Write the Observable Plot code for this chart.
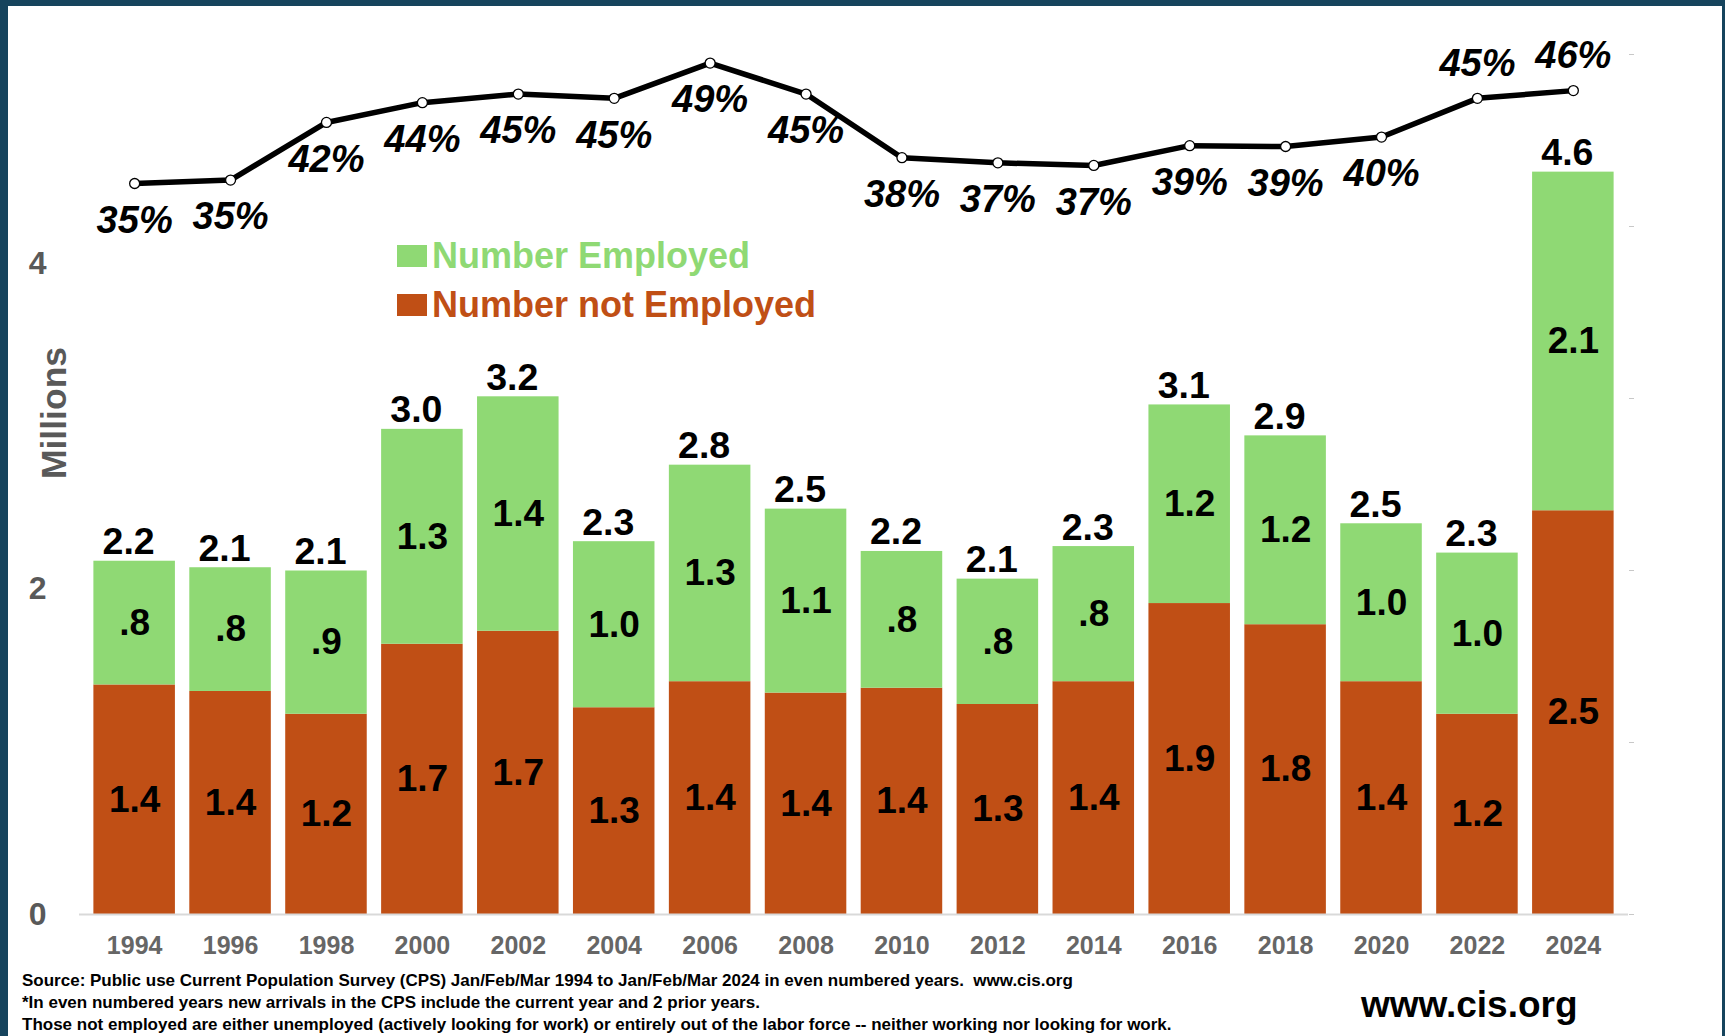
<!DOCTYPE html>
<html>
<head>
<meta charset="utf-8">
<script src="https://cdn.jsdelivr.net/npm/d3@7"></script>
<script src="https://cdn.jsdelivr.net/npm/@observablehq/plot@0.6"></script>
<style>
  html, body { margin: 0; padding: 0; }
  body { width: 1725px; height: 1036px; background: #16445d; overflow: hidden; position: relative; }
  #panel { position: absolute; left: 8px; top: 6px; width: 1714px; height: 1030px; background: #ffffff; }
  #panel svg { position: absolute; left: 0; top: 0; }
  .leg { position: absolute; font-family: "Liberation Sans", Arial, sans-serif; font-weight: bold; font-size: 36px; line-height: 1; white-space: nowrap; }
  .sw { position: absolute; width: 30px; height: 22px; }
  .foot { position: absolute; left: 14px; font-family: "Liberation Sans", Arial, sans-serif; font-weight: bold; font-size: 17px; color: #000; white-space: pre; line-height: 1; }
</style>
</head>
<body>
<div id="panel"></div>
<script>
// ---- data ----
const years = [1994, 1996, 1998, 2000, 2002, 2004, 2006, 2008, 2010, 2012, 2014, 2016, 2018, 2020, 2022, 2024];
const notEmployed = [1.41, 1.37, 1.23, 1.66, 1.74, 1.27, 1.43, 1.36, 1.39, 1.29, 1.43, 1.91, 1.78, 1.43, 1.23, 2.48];
const employed = [0.76, 0.76, 0.88, 1.32, 1.44, 1.02, 1.33, 1.13, 0.84, 0.77, 0.83, 1.22, 1.16, 0.97, 0.99, 2.08];
const totalLabels = [2.2, 2.1, 2.1, 3.0, 3.2, 2.3, 2.8, 2.5, 2.2, 2.1, 2.3, 3.1, 2.9, 2.5, 2.3, 4.6];
const shareEmployed = [35.0, 35.4, 42.1, 44.4, 45.4, 44.9, 49.0, 45.4, 38.0, 37.4, 37.1, 39.4, 39.3, 40.4, 44.9, 45.8];
const labelAboveYears = [2022, 2024];
const yTicks = [0, 2, 4];
const pctTicks = [-50, -30, -10, 10, 30, 50];
const seriesNames = ["Number not Employed", "Number Employed"];
const seriesColors = ["#c04f15", "#8fd974"];

// ---- derived tables ----
const long = [];
years.forEach((y, i) => {
  long.push({year: String(y), series: seriesNames[0], value: notEmployed[i]});
  long.push({year: String(y), series: seriesNames[1], value: employed[i]});
});
const perYear = years.map((y, i) => ({
  year: String(y), total: notEmployed[i] + employed[i], totalLabel: totalLabels[i],
  pct: shareEmployed[i], above: labelAboveYears.includes(y)
}));
const fmt = v => { const s = v.toFixed(1); return s.startsWith("0") ? s.slice(1) : s; };
const FONT = "Liberation Sans, Arial, sans-serif";

const W = 1714, H = 970;
const xScale = {type: "band", domain: years.map(String), padding: 0.15, round: false};

const bars = Plot.plot({
  width: W, height: H,
  marginLeft: 71, marginRight: 94, marginTop: 94, marginBottom: 62,
  style: {background: "transparent", overflow: "visible"},
  x: {...xScale, label: null},
  y: {domain: [0, 5], label: null},
  color: {domain: seriesNames, range: seriesColors},
  marks: [
    Plot.barY(long, Plot.stackY({x: "year", y: "value", fill: "series", order: seriesNames})),
    Plot.ruleY([0], {stroke: "#d9d9d9", strokeWidth: 2}),
    Plot.text(long, Plot.stackY({x: "year", y: "value", z: "series", order: seriesNames,
      text: d => fmt(d.value), fill: "#000", fontSize: 37, fontWeight: "bold", fontFamily: FONT})),
    Plot.text(perYear, {x: "year", y: "total", text: d => d.totalLabel.toFixed(1),
      lineAnchor: "bottom", dy: -7, dx: -6, fill: "#000", fontSize: 37.5, fontWeight: "bold", fontFamily: FONT}),
    Plot.axisX({tickSize: 0, tickPadding: 22, fontSize: 25, fontWeight: "bold", fill: "#666",
      fontFamily: FONT, label: null}),
    Plot.axisY({ticks: yTicks, tickFormat: d => String(d), tickSize: 0, tickPadding: 33, fontSize: 32,
      fontWeight: "bold", fill: "#595959", fontFamily: FONT, label: null})
  ]
});

const line = Plot.plot({
  width: W, height: H,
  marginLeft: 71, marginRight: 94, marginTop: 48, marginBottom: 62,
  style: {background: "transparent", overflow: "visible"},
  x: {...xScale, axis: null},
  y: {domain: [-50, 50], axis: null},
  marks: [
    Plot.axisY({anchor: "right", ticks: pctTicks, tickSize: 5, tickFormat: () => "", stroke: "#c8c8c8", label: null}),
    Plot.lineY(perYear, {x: "year", y: "pct", stroke: "#000", strokeWidth: 5.5, strokeLinejoin: "round"}),
    Plot.dot(perYear, {x: "year", y: "pct", r: 5, fill: "#fff", stroke: "#000", strokeWidth: 1.3}),
    Plot.text(perYear.filter(d => !d.above), {x: "year", y: "pct", text: d => Math.round(d.pct) + "%",
      dy: 37, fill: "#000", fontSize: 38, fontWeight: "bold", fontStyle: "italic", fontFamily: FONT}),
    Plot.text(perYear.filter(d => d.above), {x: "year", y: "pct", text: d => Math.round(d.pct) + "%",
      dy: -35, fill: "#000", fontSize: 38, fontWeight: "bold", fontStyle: "italic", fontFamily: FONT})
  ]
});

const panel = document.getElementById("panel");
panel.appendChild(bars);
panel.appendChild(line);

// legend
const legendItems = [seriesNames[1], seriesNames[0]];
legendItems.forEach((name, i) => {
  const color = seriesColors[seriesNames.indexOf(name)];
  const top = 239 + i * 49;
  const sw = document.createElement("div");
  sw.className = "sw"; sw.style.left = "389px"; sw.style.top = top + "px"; sw.style.background = color;
  panel.appendChild(sw);
  const t = document.createElement("div");
  t.className = "leg"; t.style.left = "424px"; t.style.top = (top - 7) + "px"; t.style.color = color;
  t.textContent = name;
  panel.appendChild(t);
});

// y axis title
const yt = document.createElement("div");
yt.textContent = "Millions";
Object.assign(yt.style, {position: "absolute", left: "47px", top: "407px", transform: "translate(-50%,-50%) rotate(-90deg)",
  fontFamily: FONT, fontWeight: "bold", fontSize: "35.5px", color: "#595959", whiteSpace: "nowrap", lineHeight: "1"});
panel.appendChild(yt);

// footer
const footLines = [
  "Source: Public use Current Population Survey (CPS) Jan/Feb/Mar 1994 to Jan/Feb/Mar 2024 in even numbered years.  www.cis.org",
  "*In even numbered years new arrivals in the CPS include the current year and 2 prior years.",
  "Those not employed are either unemployed (actively looking for work) or entirely out of the labor force -- neither working nor looking for work."
];
footLines.forEach((s, i) => {
  const d = document.createElement("div");
  d.className = "foot"; d.style.top = (966 + i * 22) + "px"; d.textContent = s;
  panel.appendChild(d);
});
const www = document.createElement("div");
www.textContent = "www.cis.org";
Object.assign(www.style, {position: "absolute", left: "1353px", top: "980px", fontFamily: FONT, fontWeight: "bold",
  fontSize: "37px", color: "#000", lineHeight: "1", whiteSpace: "nowrap"});
panel.appendChild(www);
</script>
</body>
</html>
